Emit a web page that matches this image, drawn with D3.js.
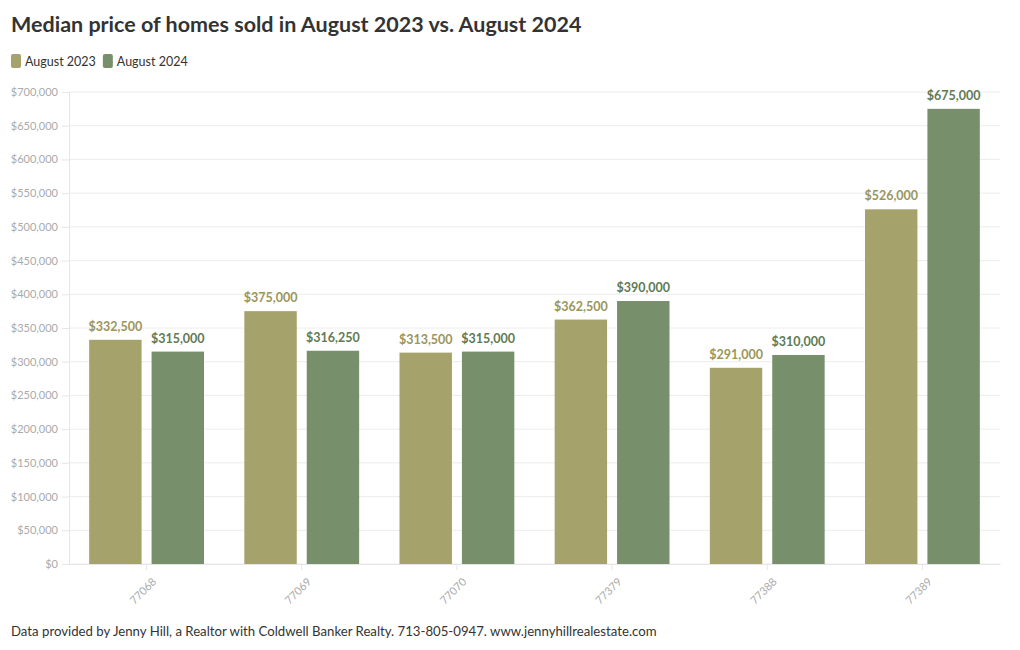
<!DOCTYPE html>
<html><head><meta charset="utf-8">
<script src="https://cdn.jsdelivr.net/npm/d3@7"></script>
<style>
body{margin:0;background:#fff;font-family:Lato,"Open Sans",sans-serif;}
</style></head>
<body><svg id="c" width="1020" height="650"></svg>
<script>
const categories = ["77068","77069","77070","77379","77388","77389"];
const seriesNames = ["August 2023","August 2024"];
const aug2023 = [332500,375000,313500,362500,291000,526000];
const aug2024 = [315000,316250,315000,390000,310000,675000];
const yTicks = [0,50000,100000,150000,200000,250000,300000,350000,400000,450000,500000,550000,600000,650000,700000];
const colors = ["#a5a26b","#77906b"];
const labelColors = ["#9a965a","#5f7a55"];

(function(){
const svg = d3.select("#c");
const font = "Lato, 'Open Sans', sans-serif";
const pLeft = 69, pRight = 1000, pTop = 92, pBottom = 564;

const x0 = d3.scaleBand().domain(categories).range([pLeft, pRight]).paddingInner(0.26).paddingOuter(0.13);
const x1 = d3.scaleBand().domain(seriesNames).range([0, x0.bandwidth()]).paddingInner(0.16);
const y = d3.scaleLinear().domain([0,700000]).range([pBottom, pTop]);
const fmt = d3.format("$,");

svg.append("text").attr("x",11).attr("y",32).attr("font-family",font).attr("font-weight",700)
  .attr("font-size",21.5).attr("fill","#333").text("Median price of homes sold in August 2023 vs. August 2024");

let lx = 11;
seriesNames.forEach((s,i)=>{
  svg.append("rect").attr("x",lx).attr("y",54).attr("width",10).attr("height",14).attr("rx",2).attr("fill",colors[i]);
  const t = svg.append("text").attr("x",lx+14).attr("y",66).attr("font-family",font).attr("font-size",12.5).attr("fill","#333").text(s);
  lx += 14 + t.node().getComputedTextLength() + 7;
});

svg.append("g").selectAll("line").data(yTicks).join("line")
  .attr("x1",pLeft).attr("x2",pRight).attr("y1",d=>y(d)).attr("y2",d=>y(d))
  .attr("stroke","#ececec").attr("stroke-width",1);

const ya = svg.append("g").attr("transform",`translate(${pLeft},0)`)
  .call(d3.axisLeft(y).tickValues(yTicks).tickFormat(fmt).tickSize(7).tickPadding(4));
ya.select(".domain").attr("stroke","#e6e6e6");
ya.selectAll(".tick line").attr("stroke","#e6e6e6");
ya.selectAll("text").attr("font-family",font).attr("font-size",11).attr("fill","#aaa");

const xa = svg.append("g").attr("transform",`translate(0,${pBottom})`)
  .call(d3.axisBottom(x0).tickSize(6).tickSizeOuter(0));
xa.select(".domain").attr("stroke","#e6e6e6");
xa.selectAll(".tick line").attr("stroke","#e6e6e6");
xa.selectAll("text").attr("font-family",font).attr("font-size",11).attr("fill","#aaa")
  .attr("text-anchor","end").attr("dy",0).attr("transform","translate(4,12) rotate(-45)");

const data = categories.map((c,i)=>({c, vals:[aug2023[i], aug2024[i]]}));
const g = svg.append("g").selectAll("g").data(data).join("g").attr("transform",d=>`translate(${x0(d.c)},0)`);
g.selectAll("rect").data(d=>d.vals.map((v,i)=>({v,i}))).join("rect")
  .attr("x",d=>x1(seriesNames[d.i])).attr("width",x1.bandwidth())
  .attr("y",d=>y(d.v)).attr("height",d=>pBottom-y(d.v)).attr("fill",d=>colors[d.i]);
g.selectAll("text").data(d=>d.vals.map((v,i)=>({v,i}))).join("text")
  .attr("x",d=>x1(seriesNames[d.i])+x1.bandwidth()/2).attr("y",d=>y(d.v)-9)
  .attr("text-anchor","middle").attr("font-family",font).attr("font-weight",700).attr("font-size",12.5)
  .attr("fill",d=>labelColors[d.i]).text(d=>fmt(d.v));

svg.append("text").attr("x",11).attr("y",636).attr("font-family",font).attr("font-size",13.2).attr("fill","#333")
  .text("Data provided by Jenny Hill, a Realtor with Coldwell Banker Realty. 713-805-0947. www.jennyhillrealestate.com");
})();
</script></body></html>
